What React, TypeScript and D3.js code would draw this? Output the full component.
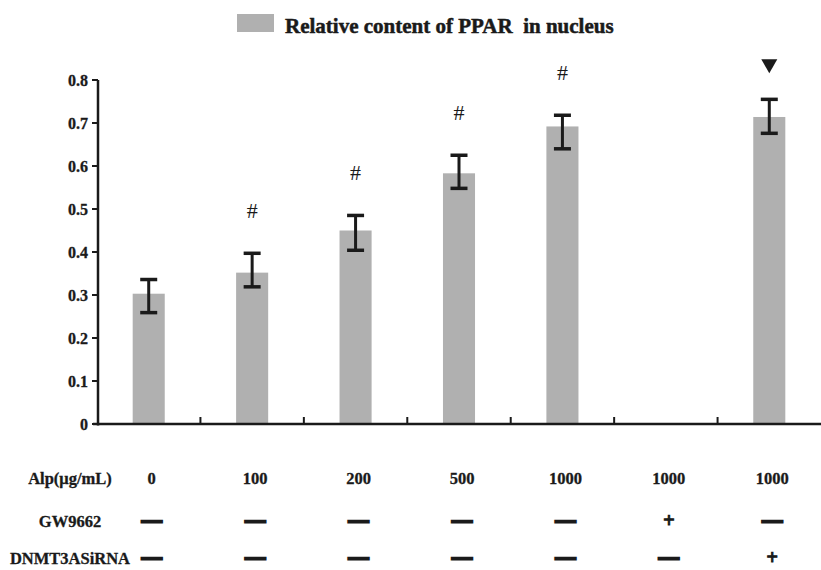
import React from "react";
import * as d3 from "d3";

// Chart data
const groups = ["g1", "g2", "g3", "g4", "g5", "g6", "g7"];
const values: (number | null)[] = [0.303, 0.352, 0.45, 0.583, 0.692, null, 0.714];
const errUp = [0.033, 0.045, 0.035, 0.042, 0.026, 0, 0.041];
const errDown = [0.044, 0.033, 0.046, 0.035, 0.052, 0, 0.038];
const marks = ["", "#", "#", "#", "#", "", "▼"];
const yTicks = [0, 0.1, 0.2, 0.3, 0.4, 0.5, 0.6, 0.7, 0.8];

const rowLabels = ["Alp(μg/mL)", "GW9662", "DNMT3ASiRNA"];
const alpRow = ["0", "100", "200", "500", "1000", "1000", "1000"];
const gwRow = ["—", "—", "—", "—", "—", "+", "—"];
const dnmtRow = ["—", "—", "—", "—", "—", "—", "+"];
const tableRows = [alpRow, gwRow, dnmtRow];

const width = 821;
const height = 570;
const font = "'Liberation Serif', 'Times New Roman', serif";
const ink = "#1a1a1a";
const barColor = "#b0b0b0";

const App: React.FC = () => {
  const x = d3
    .scaleBand<string>()
    .domain(groups)
    .range([97, 821])
    .paddingInner(0.69)
    .paddingOuter(0.345);

  const y = d3.scaleLinear().domain([0, 0.8]).range([424, 80]);

  const cx = (g: string) => (x(g) ?? 0) + x.bandwidth() / 2;
  const boundaries = groups.slice(1).map((g) => (x(g) ?? 0) - (x.step() * x.paddingInner()) / 2);
  const rowY = [484, 527, 564];

  return (
    <svg
      width={width}
      height={height}
      style={{ position: "absolute", left: 0, top: 0, background: "#fff" }}
      fontFamily={font}
    >
      {/* legend */}
      <rect x={237} y={14} width={37} height={18} fill={barColor} />
      <text
        x={285}
        y={33}
        fontSize={21}
        fontWeight="bold"
        fill={ink}
        stroke={ink}
        strokeWidth={0.5}
        style={{ whiteSpace: "pre" }}
      >
        {"Relative content of PPAR  in nucleus"}
      </text>

      {/* bars */}
      {groups.map((g, i) =>
        values[i] == null ? null : (
          <rect
            key={g}
            x={x(g)}
            y={y(values[i] as number)}
            width={x.bandwidth()}
            height={y(0) - y(values[i] as number)}
            fill={barColor}
          />
        )
      )}

      {/* error bars */}
      {groups.map((g, i) => {
        const v = values[i];
        if (v == null) return null;
        const c = cx(g);
        const top = y(v + errUp[i]);
        const bot = y(v - errDown[i]);
        return (
          <g key={g} stroke={ink} strokeWidth={3}>
            <line x1={c} x2={c} y1={top} y2={bot} />
            <line x1={c - 8.5} x2={c + 8.5} y1={top} y2={top} strokeWidth={3.5} />
            <line x1={c - 8.5} x2={c + 8.5} y1={bot} y2={bot} strokeWidth={3.5} />
          </g>
        );
      })}

      {/* significance marks */}
      {groups.map((g, i) => {
        const v = values[i];
        if (v == null || !marks[i]) return null;
        const top = y(v + errUp[i]);
        const c = cx(g);
        if (marks[i] === "▼") {
          const ty = top - 33;
          return (
            <path
              key={g}
              d={`M${c - 8},${ty - 7} L${c + 8},${ty - 7} L${c},${ty + 7} Z`}
              fill={ink}
            />
          );
        }
        return (
          <text
            key={g}
            x={c}
            y={top - 35}
            textAnchor="middle"
            fontSize={22}
            fill={ink}
          >
            {marks[i]}
          </text>
        );
      })}

      {/* y axis */}
      <line x1={98} x2={98} y1={y(0.8)} y2={y(0) + 1.5} stroke={ink} strokeWidth={2.5} />
      {yTicks.map((t) => (
        <g key={t}>
          <line x1={92} x2={98} y1={y(t)} y2={y(t)} stroke={ink} strokeWidth={2} />
          <text
            x={88}
            y={y(t)}
            dy="0.35em"
            textAnchor="end"
            fontSize={16}
            fontWeight="bold"
            fill={ink}
            stroke={ink}
            strokeWidth={0.3}
          >
            {t === 0 ? "0" : d3.format(".1f")(t)}
          </text>
        </g>
      ))}

      {/* x axis */}
      <line x1={93} x2={821} y1={y(0)} y2={y(0)} stroke={ink} strokeWidth={2.5} />
      {boundaries.map((b, i) => (
        <line key={i} x1={b} x2={b} y1={y(0)} y2={y(0) - 7} stroke={ink} strokeWidth={2} />
      ))}

      {/* condition table */}
      {rowLabels.map((lab, r) => (
        <g key={lab}>
          <text
            x={70}
            y={rowY[r]}
            textAnchor="middle"
            fontSize={16.5}
            fontWeight="bold"
            fill={ink}
            stroke={ink}
            strokeWidth={0.3}
          >
            {lab}
          </text>
          {tableRows[r].map((val, i) => (
            <text
              key={i}
              x={cx(groups[i]) + 3}
              y={rowY[r]}
              textAnchor="middle"
              fontSize={val === "—" ? 20 : val === "+" ? 20 : 16.5}
              fontWeight="bold"
              fill={ink}
              stroke={ink}
              strokeWidth={val === "—" ? 2.2 : val === "+" ? 1 : 0.3}
            >
              {val}
            </text>
          ))}
        </g>
      ))}
    </svg>
  );
};

export default App;
